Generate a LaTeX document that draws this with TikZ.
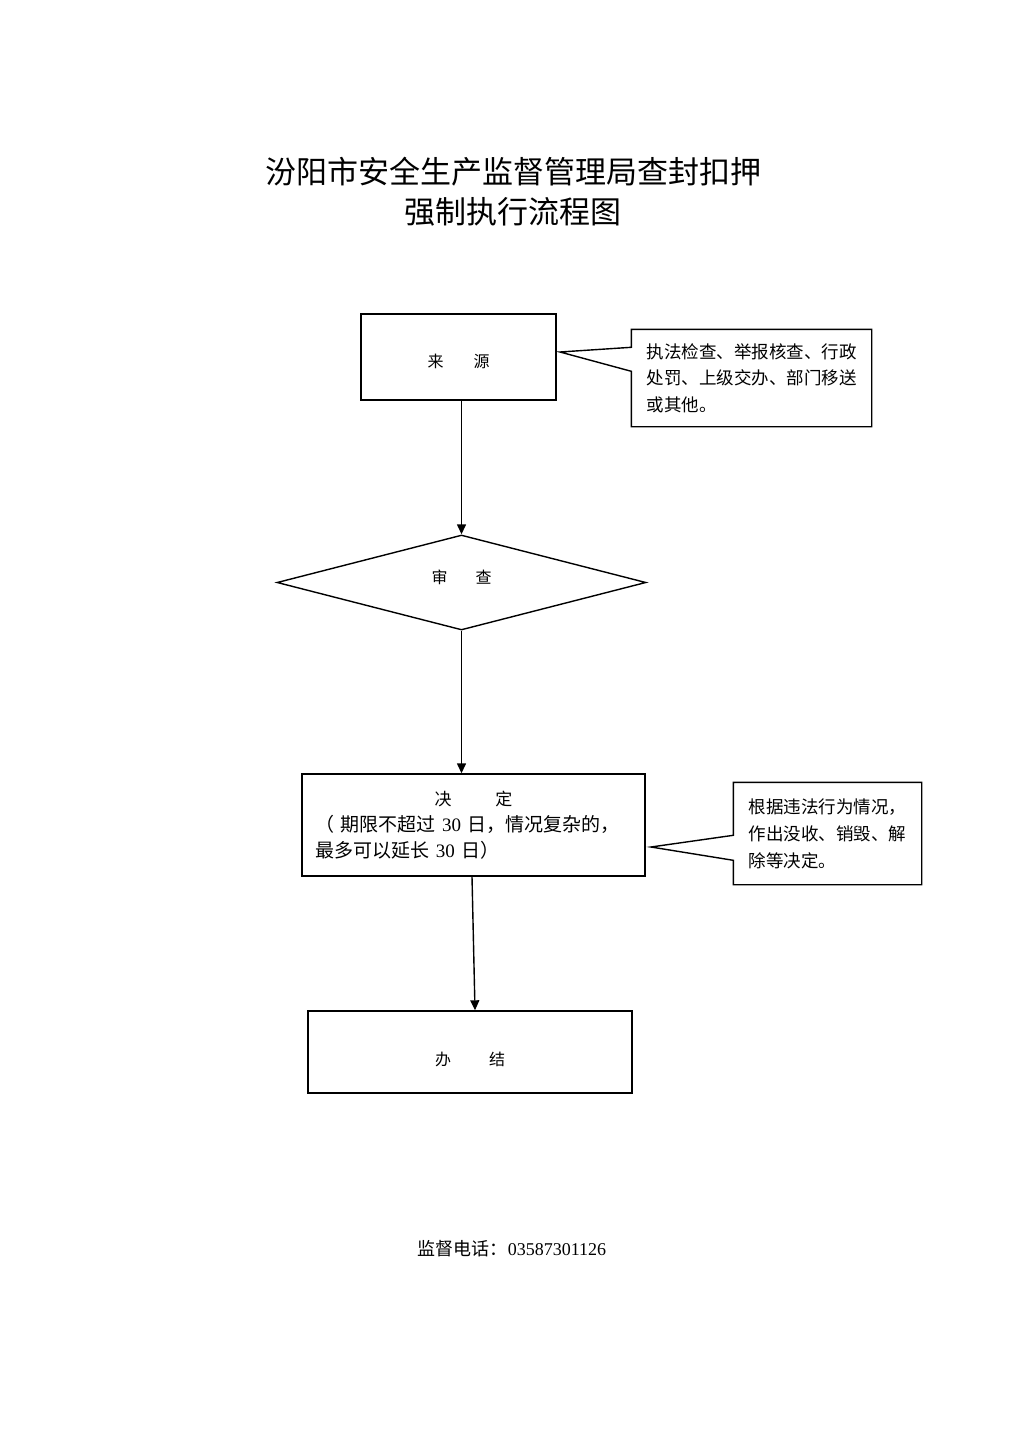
\documentclass[tikz,border=0pt]{standalone}
\usepackage{fontspec}
\setmainfont{Noto Sans CJK SC}
\newfontfamily\lat{Liberation Serif}
\usetikzlibrary{shapes.geometric,arrows.meta,calc}
\begin{document}
\begin{tikzpicture}[x=1pt,y=-1pt, line width=1.4pt,
  box/.style={draw, rectangle, inner sep=0pt},
  call/.style={rectangle, inner sep=0pt, align=left},
  arr/.style={-{Triangle[length=10pt,width=9pt]}}]
\useasboundingbox (0,0) rectangle (1024,1448);
\fill[white] (0,0) rectangle (1024,1448);

\node[font=\fontsize{31}{40}\selectfont, align=center] (title) at (513,192) {汾阳市安全生产监督管理局查封扣押\\强制执行流程图};

\node[box, minimum width=195pt, minimum height=86pt, font=\fontsize{16}{16}\selectfont, text depth=0pt, text height=20pt] (src) at (458.5,357) {来\hspace{30pt}源};

\node[call, minimum width=239pt, minimum height=96pt, font=\fontsize{17.5}{26.5}\selectfont] (c1) at (751.5,378) {执法检查、举报核查、行政\\处罚、上级交办、部门移送\\或其他。};
\coordinate (t1) at (560,352);
\draw (c1.north west) -- (c1.north east) -- (c1.south east) -- (c1.south west) -- ($(c1.north west)+(0,42)$) -- (t1) -- ($(c1.north west)+(0,18)$) -- cycle;

\node[draw, diamond, minimum width=369pt, minimum height=95pt, inner sep=0pt, font=\fontsize{16}{16}\selectfont, text depth=0pt, text height=1pt] (rev) at (461.5,582.5) {审\hspace{28pt}查};

\node[box, minimum width=343pt, minimum height=102pt, text width=316pt, align=left, font=\fontsize{19}{26}\selectfont] (dec) at (473.5,825) {\makebox[\linewidth]{\fontsize{17}{26}\selectfont 决\hspace{44pt}定}\\（ 期限不超过 {\lat 30} 日，情况复杂的，\\最多可以延长 {\lat 30} 日）};

\node[call, minimum width=187pt, minimum height=101pt, font=\fontsize{17.5}{27}\selectfont] (c2) at (827.5,833.5) {根据违法行为情况，\\作出没收、销毁、解\\除等决定。};
\coordinate (t2) at (651,847);
\draw (c2.north west) -- (c2.north east) -- (c2.south east) -- (c2.south west) -- ($(c2.north west)+(0,78)$) -- (t2) -- ($(c2.north west)+(0,53)$) -- cycle;

\node[box, minimum width=324pt, minimum height=82pt, font=\fontsize{16}{16}\selectfont, text depth=0pt, text height=26pt] (end) at (470,1052) {办\hspace{38pt}结};

\draw[arr] (rev.north |- src.south) -- (rev.north);
\draw[arr] (rev.south) -- (rev.south |- dec.north);
\draw[arr] ($(dec.south)+(-1.5,0)$) -- ($(end.north)+(5,0)$);

\node[font=\fontsize{18}{18}\selectfont] (tel) at (512,1249) {监督电话：{\lat 03587301126}};
\end{tikzpicture}
\end{document}
